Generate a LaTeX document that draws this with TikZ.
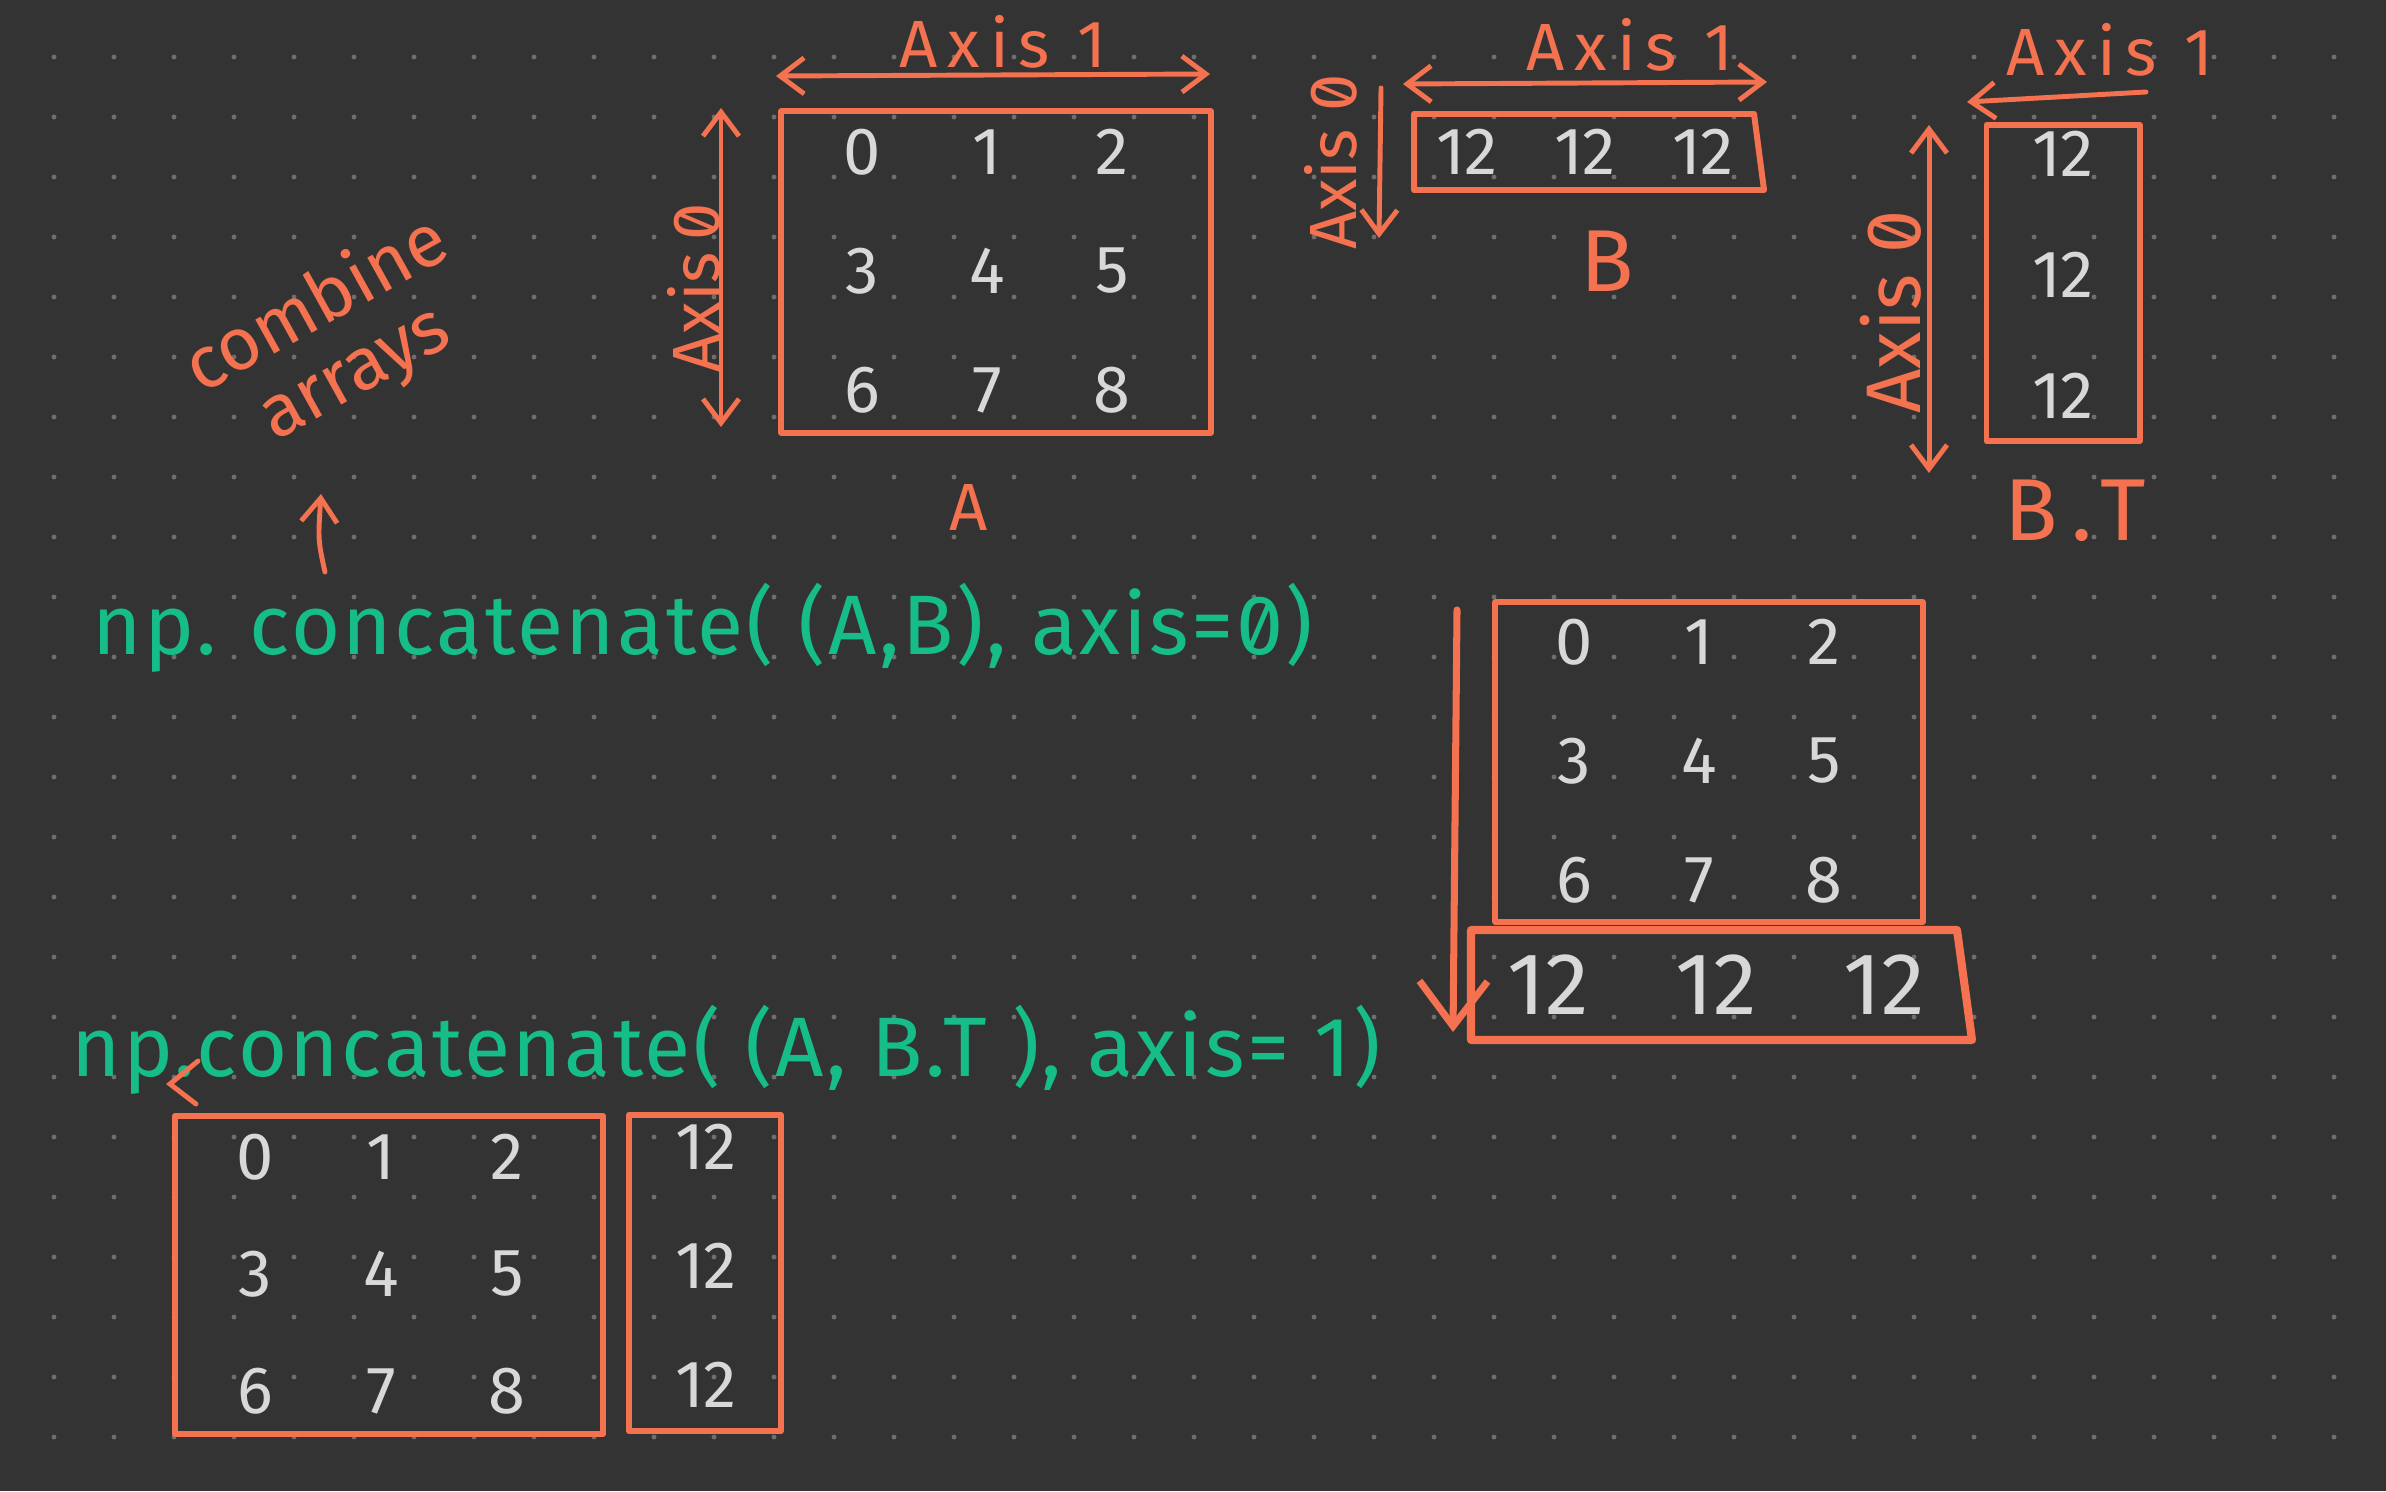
\documentclass[tikz,border=0pt]{standalone}
\usepackage{fontspec}
\setmainfont{Fira Sans}
\newfontfamily\slashed[RawFeature=+zero]{Fira Sans}
\newfontfamily\spread[LetterSpace=15]{Fira Sans}
\newfontfamily\codefont[LetterSpace=3,RawFeature=+zero]{Fira Sans}
\usetikzlibrary{arrows.meta}

\definecolor{board}{HTML}{333333}
\definecolor{dotgrey}{HTML}{6E6E6E}
\definecolor{coral}{HTML}{F4724F}
\definecolor{mint}{HTML}{17BD88}
\definecolor{chalk}{HTML}{D8D8D8}

\tikzset{
  box/.style = {draw=coral, line width=1.7pt, inner sep=0, line join=round},
  num/.style = {text=chalk, font=\fontsize{19}{19}\selectfont},
  big/.style = {font=\fontsize{25}{25}\selectfont},
  note/.style = {text=coral, font=\fontsize{19}{19}\selectfont},
  wide/.style = {text=coral, font=\spread\fontsize{19}{19}\selectfont},
  axis/.style = {coral, line width=1.4pt, line cap=round},
  code/.style = {text=mint, font=\codefont\fontsize{24}{24}\selectfont}
}

\begin{document}
\begin{tikzpicture}[x=0.01cm, y=-0.01cm, >={Straight Barb[length=0.24cm, width=0.36cm]}]
  % board and dots
  \fill[board] (0,0) rectangle (2386,1491);
  \foreach \i in {0,...,38}
    \foreach \j in {0,...,23}
      \fill[dotgrey] (54+60*\i, 57+60*\j) circle [radius=0.7pt];

  % array A
  \node[box, minimum width=4.29cm, minimum height=3.21cm] (A) at (996,272) {};
  \foreach \r in {0,1,2}
    \foreach \c in {0,1,2} {
      \pgfmathtruncatemacro{\v}{3*\r+\c}
      \node[num] (A\v) at (862+125*\c, 152+119*\r) {\v};
    }
  \node[note] (nameA) at (969,507) {A};
  \coordinate (a1l) at (776,76);
  \coordinate (a1r) at (1210,74);
  \draw[axis, <->] (a1l) -- (a1r);
  \node[wide] (axisA1) at (1003,42) {Axis 1};
  \coordinate (a0t) at (721,108);
  \coordinate (a0b) at (721,427);
  \draw[axis, <->] (a0t) -- (a0b);
  \node[note, rotate=90] (axisA0) at (694,288) {\slashed Axis\,0};

  % array B
  \draw[box] (1414,114) -- (1754,114) -- (1764,190) -- (1414,190) -- cycle;
  \foreach \c in {0,1,2}
    \node[num] (B\c) at (1467+118*\c, 152) {12};
  \node[note, big] (nameB) at (1607,261) {B};
  \coordinate (b1l) at (1403,84);
  \coordinate (b1r) at (1767,82);
  \draw[axis, <->] (b1l) -- (b1r);
  \node[wide] (axisB1) at (1630,45) {Axis 1};
  \coordinate (b0t) at (1381,88);
  \coordinate (b0b) at (1379,238);
  \draw[axis, ->] (b0t) -- (b0b);
  \node[note, rotate=90] (axisB0) at (1331,162) {\slashed Axis 0};

  % B.T
  \node[box, minimum width=1.53cm, minimum height=3.16cm] (BT) at (2063,283) {};
  \foreach \r in {0,1,2}
    \node[num] (BT\r) at (2063, 154+121*\r) {12};
  \node[wide, big] (nameBT) at (2075,511) {\spread B.T};
  \coordinate (t1r) at (2146,92);
  \coordinate (t1l) at (1967,102);
  \draw[axis, ->] (t1r) -- (t1l);
  \node[wide] (axisT1) at (2110,50) {Axis 1};
  \coordinate (t0t) at (1929,125);
  \coordinate (t0b) at (1929,473);
  \draw[axis, <->] (t0t) -- (t0b);
  \node[note, rotate=90, font=\slashed\fontsize{22}{22}\selectfont] (axisT0) at (1891,312) {Axis 0};

  % combine arrays
  \node[note, rotate=29, align=center, font=\fontsize{21}{22}\selectfont] (combine) at (336,340) {combine\\arrays};
  \coordinate (up0) at (325,572);
  \coordinate (up1) at (321,494);
  \draw[axis, ->] (up0) .. controls (318,540) .. (up1);

  % axis=0
  \node[code] (cat0) at (703,628) {np. concatenate( (A,B), axis=0)};
  \node[box, minimum width=4.27cm, minimum height=3.19cm] (R) at (1709,762) {};
  \foreach \r in {0,1,2}
    \foreach \c in {0,1,2} {
      \pgfmathtruncatemacro{\v}{3*\r+\c}
      \node[num] (R\v) at (1574+125*\c, 642+119*\r) {\v};
    }
  \draw[box, line width=2.3pt] (1471,930) -- (1957,930) -- (1972,1040) -- (1471,1040) -- cycle;
  \foreach \c in {0,1,2}
    \node[num, big] (RB\c) at (1548+168*\c, 985) {12};
  \coordinate (r0t) at (1457,610);
  \coordinate (r0b) at (1453,1032);
  \draw[axis, line width=2pt, -{Straight Barb[length=0.45cm, width=0.68cm]}] (r0t) -- (r0b);

  % axis=1
  \node[code] (cat1) at (726,1050) {np.concatenate( (A, B.T ), axis= 1)};
  \draw[axis] (198,1061) -- (170,1084) -- (196,1104);
  \node[box, minimum width=4.28cm, minimum height=3.18cm] (S) at (389,1275) {};
  \foreach \r in {0,1,2}
    \foreach \c in {0,1,2} {
      \pgfmathtruncatemacro{\v}{3*\r+\c}
      \node[num] (S\v) at (255+126*\c, 1157+117*\r) {\v};
    }
  \node[box, minimum width=1.52cm, minimum height=3.16cm] (SB) at (705,1273) {};
  \foreach \r in {0,1,2}
    \node[num] (SB\r) at (706, 1147+119*\r) {12};
\end{tikzpicture}
\end{document}
